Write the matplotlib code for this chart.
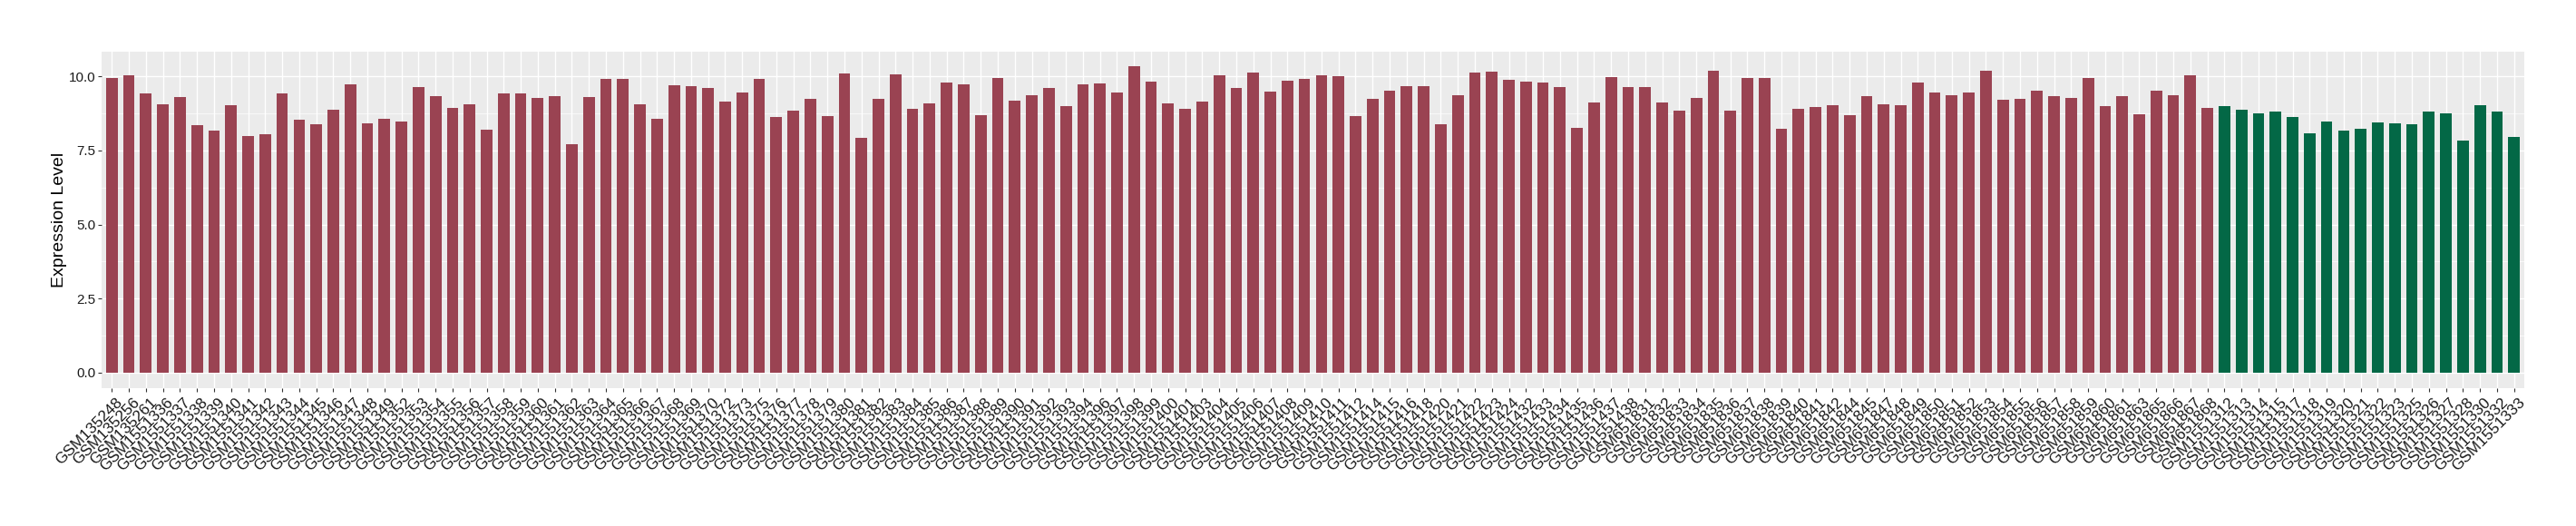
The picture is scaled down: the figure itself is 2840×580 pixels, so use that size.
import matplotlib
matplotlib.use("Agg")
import matplotlib.pyplot as plt
import matplotlib.transforms as mtransforms
from matplotlib.ticker import MultipleLocator

samples = [
    "GSM135248", "GSM135256", "GSM135261", "GSM1551336", "GSM1551337", "GSM1551338",
    "GSM1551339", "GSM1551340", "GSM1551341", "GSM1551342", "GSM1551343", "GSM1551344",
    "GSM1551345", "GSM1551346", "GSM1551347", "GSM1551348", "GSM1551349", "GSM1551352",
    "GSM1551353", "GSM1551354", "GSM1551355", "GSM1551356", "GSM1551357", "GSM1551358",
    "GSM1551359", "GSM1551360", "GSM1551361", "GSM1551362", "GSM1551363", "GSM1551364",
    "GSM1551365", "GSM1551366", "GSM1551367", "GSM1551368", "GSM1551369", "GSM1551370",
    "GSM1551372", "GSM1551373", "GSM1551375", "GSM1551376", "GSM1551377", "GSM1551378",
    "GSM1551379", "GSM1551380", "GSM1551381", "GSM1551382", "GSM1551383", "GSM1551384",
    "GSM1551385", "GSM1551386", "GSM1551387", "GSM1551388", "GSM1551389", "GSM1551390",
    "GSM1551391", "GSM1551392", "GSM1551393", "GSM1551394", "GSM1551396", "GSM1551397",
    "GSM1551398", "GSM1551399", "GSM1551400", "GSM1551401", "GSM1551403", "GSM1551404",
    "GSM1551405", "GSM1551406", "GSM1551407", "GSM1551408", "GSM1551409", "GSM1551410",
    "GSM1551411", "GSM1551412", "GSM1551414", "GSM1551415", "GSM1551416", "GSM1551418",
    "GSM1551420", "GSM1551421", "GSM1551422", "GSM1551423", "GSM1551424", "GSM1551432",
    "GSM1551433", "GSM1551434", "GSM1551435", "GSM1551436", "GSM1551437", "GSM1551438",
    "GSM651831", "GSM651832", "GSM651833", "GSM651834", "GSM651835", "GSM651836",
    "GSM651837", "GSM651838", "GSM651839", "GSM651840", "GSM651841", "GSM651842",
    "GSM651844", "GSM651845", "GSM651847", "GSM651848", "GSM651849", "GSM651850",
    "GSM651851", "GSM651852", "GSM651853", "GSM651854", "GSM651855", "GSM651856",
    "GSM651857", "GSM651858", "GSM651859", "GSM651860", "GSM651861", "GSM651863",
    "GSM651865", "GSM651866", "GSM651867", "GSM651868",
    "GSM1551312", "GSM1551313", "GSM1551314", "GSM1551315", "GSM1551317", "GSM1551318",
    "GSM1551319", "GSM1551320", "GSM1551321", "GSM1551322", "GSM1551323", "GSM1551325",
    "GSM1551326", "GSM1551327", "GSM1551328", "GSM1551330", "GSM1551332", "GSM1551333",
]

expression = [
    9.94, 10.03, 9.43, 9.07, 9.31, 8.35,
    8.16, 9.04, 7.98, 8.04, 9.43, 8.55,
    8.38, 8.89, 9.73, 8.43, 8.58, 8.49,
    9.64, 9.34, 8.95, 9.07, 8.19, 9.43,
    9.43, 9.27, 9.34, 7.70, 9.31, 9.91,
    9.91, 9.07, 8.58, 9.70, 9.67, 9.61,
    9.15, 9.46, 9.91, 8.64, 8.86, 9.24,
    8.67, 10.12, 7.92, 9.24, 10.06, 8.92,
    9.10, 9.80, 9.73, 8.70, 9.94, 9.18,
    9.37, 9.61, 9.01, 9.73, 9.77, 9.46,
    10.34, 9.83, 9.10, 8.92, 9.15, 10.03,
    9.61, 10.15, 9.49, 9.85, 9.91, 10.03,
    10.00, 8.67, 9.24, 9.52, 9.67, 9.67,
    8.38, 9.37, 10.15, 10.18, 9.88, 9.83,
    9.80, 9.64, 8.28, 9.12, 9.97, 9.64,
    9.64, 9.12, 8.86, 9.27, 10.21, 8.86,
    9.94, 9.94, 8.25, 8.92, 8.98, 9.04,
    8.70, 9.34, 9.07, 9.04, 9.80, 9.46,
    9.37, 9.46, 10.21, 9.21, 9.24, 9.52,
    9.34, 9.27, 9.94, 9.01, 9.34, 8.73,
    9.52, 9.37, 10.03, 8.95,
    9.01, 8.89, 8.76, 8.83, 8.64, 8.07,
    8.49, 8.16, 8.25, 8.46, 8.43, 8.40,
    8.83, 8.76, 7.85, 9.04, 8.83, 7.95,
]

groups = ["Tumor"] * 124 + ["Normal"] * 18
group_colors = {"Tumor": "#9A4352", "Normal": "#036846"}

y_ticks = [0.0, 2.5, 5.0, 7.5, 10.0]
y_title = "Expression Level"

W, H = 2840, 580
fig = plt.figure(figsize=(W / 100, H / 100), dpi=100)
left, right, top, bottom = 112, 2783, 56.5, 427.5
ax = fig.add_axes([left / W, 1 - bottom / H, (right - left) / W, (bottom - top) / H])

n = len(samples)
xs = list(range(n))
ax.bar(xs, expression, width=0.68, color=[group_colors[g] for g in groups], zorder=3)

ymax = max(expression)
ax.set_xlim(-0.6, n - 1 + 0.6)
ax.set_ylim(-0.05 * ymax, 1.05 * ymax)

ax.set_facecolor("#EBEBEB")
for s in ax.spines.values():
    s.set_visible(False)

ax.set_yticks(y_ticks)
ax.set_yticklabels([f"{t:.1f}" for t in y_ticks])
ax.yaxis.set_minor_locator(MultipleLocator(1.25))
ax.set_xticks(xs)
ax.set_xticklabels(samples)

ax.grid(which="major", axis="both", color="white", linewidth=1.0, zorder=1)
ax.grid(which="minor", axis="y", color="white", linewidth=0.5, zorder=1)
ax.set_axisbelow(True)

ax.tick_params(axis="both", which="major", length=3, width=0.8, color="#333333")
ax.tick_params(axis="y", which="minor", length=0)
ax.tick_params(axis="y", labelsize=11, labelcolor="#1A1A1A", pad=2)
ax.tick_params(axis="x", labelsize=12.4, labelcolor="#1A1A1A", pad=3)

for lab in ax.get_yticklabels():
    lab.set_fontfamily("Liberation Sans")
offset = mtransforms.ScaledTranslation(4 / 100, 0, fig.dpi_scale_trans)
for lab in ax.get_xticklabels():
    lab.set_fontfamily("Liberation Sans")
    lab.set_rotation(45)
    lab.set_ha("right")
    lab.set_va("top")
    lab.set_rotation_mode("anchor")
    lab.set_transform(lab.get_transform() + offset)

ax.set_ylabel(y_title, fontsize=14, fontfamily="Liberation Sans", color="black", labelpad=1)

fig.savefig("out.png", dpi=100, facecolor="white")
